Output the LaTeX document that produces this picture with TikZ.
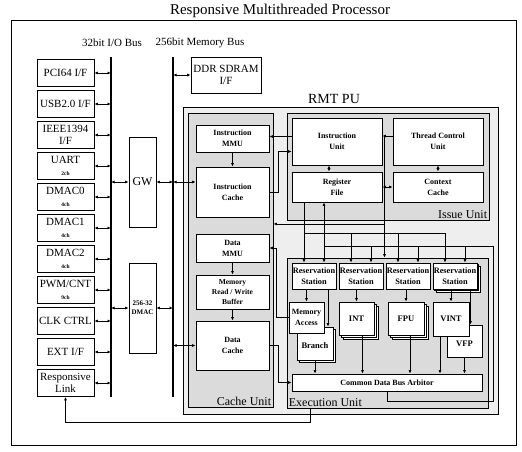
\documentclass[tikz,border=0pt]{standalone}
\usepackage{fontspec}
\setmainfont{Liberation Serif}
\usetikzlibrary{arrows.meta,positioning,calc,shadows}
\newcommand{\chn}[1]{{\fontsize{5.5}{6}\selectfont\bfseries #1}}
\tikzset{
  sysframe/.style={draw=black,line width=0.8pt,fill=white},
  title/.style={font=\fontsize{15}{16}\selectfont},
  buslbl/.style={font=\fontsize{11}{12}\selectfont,inner sep=1pt},
  bus/.style={line width=1.3pt},
  iobox/.style={draw=black,fill=white,line width=0.7pt,
                minimum width=57pt,minimum height=27pt,
                inner sep=1pt,align=center,font=\fontsize{11}{11.5}\selectfont},
  gwbox/.style={draw=black,fill=white,line width=0.7pt,
                minimum width=27pt,inner sep=1pt,align=center,
                font=\fontsize{12}{13}\selectfont},
  pubox/.style={draw=black,fill=gray!13,line width=0.8pt},
  unitbox/.style={draw=black,fill=gray!28,line width=0.7pt},
  pulbl/.style={font=\fontsize{14}{15}\selectfont,inner sep=1pt},
  unitlbl/.style={font=\fontsize{12}{13}\selectfont,inner sep=2pt},
  blk/.style={draw=black,fill=white,line width=0.8pt,inner sep=1pt,
              align=center,font=\fontsize{8}{11}\selectfont\bfseries},
  rsbox/.style={blk,minimum width=44pt,minimum height=26pt,inner sep=0pt,
                font=\fontsize{8.3}{11}\selectfont\bfseries},
  fubox/.style={blk,font=\fontsize{8.5}{11}\selectfont\bfseries},
  stack/.style={copy shadow={shadow xshift=#1,shadow yshift=-#1,
                draw=black,fill=white,line width=0.7pt}},
  wire/.style={line width=0.7pt},
  arr/.style={-{Latex[length=3.5pt,width=3pt]},line width=0.7pt},
  biarr/.style={{Latex[length=3.5pt,width=3pt]}-{Latex[length=3.5pt,width=3pt]},line width=0.7pt}
}
\begin{document}
\begin{tikzpicture}[x=1pt,y=-1pt]
  \useasboundingbox (0,0) rectangle (522,452);
  % outer frame and title
  \node[sysframe,minimum width=505pt,minimum height=425pt] (sys) at (263.5,232.5) {};
  \node[title] (ttl) at (280,11) {Responsive Multithreaded Processor};

  % the two buses
  \coordinate (iotop) at (111,57);
  \coordinate (iobot) at (111,397);
  \coordinate (memtop) at (173,57);
  \coordinate (membot) at (173,397);
  \draw[bus] (iotop) -- (iobot);
  \draw[bus] (memtop) -- (membot);
  \node[buslbl] (iolbl) at (112,43) {32bit I/O Bus};
  \node[buslbl] (memlbl) at (200,43) {256bit Memory Bus};

  % peripheral column on the I/O bus
  \foreach \i/\nm/\txt in {0/pci/{PCI64 I/F},1/usb/{USB2.0 I/F},2/ieee/{IEEE1394\\I/F},
      3/uart/{UART\\\chn{2ch}},4/dmaA/{DMAC0\\\chn{4ch}},5/dmaB/{DMAC1\\\chn{4ch}},
      6/dmaC/{DMAC2\\\chn{4ch}},7/pwm/{PWM/CNT\\\chn{9ch}},8/clk/{CLK CTRL},
      9/ext/{EXT I/F},10/rl/{Responsive\\Link}}
    \node[iobox] (\nm) at (65.5,73+31*\i) {\txt};
  \foreach \nm in {pci,usb,ieee,uart,dmaA,dmaB,dmaC,pwm,clk,ext,rl}
    \draw[biarr] (\nm.east) -- (\nm.east -| iotop);

  % gateway, bridge DMA and SDRAM
  \node[gwbox,minimum height=90pt] (gw) at (142.5,182) {GW};
  \node[gwbox,minimum height=90pt,font=\fontsize{7}{9}\selectfont\bfseries] (dmac) at (142.5,308) {256-32\\DMAC};
  \foreach \nm in {gw,dmac} {
    \draw[biarr] (\nm.west) -- (\nm.west -| iotop);
    \draw[biarr] (\nm.east) -- (\nm.east -| memtop);
  }
  \node[iobox,minimum width=70pt,minimum height=36pt] (ddr) at (226,75) {DDR SDRAM\\I/F};
  \draw[biarr] (ddr.west) -- (ddr.west -| memtop);

  % RMT PU and its three units
  \node[pubox,minimum width=315pt,minimum height=307pt] (rmt) at (340.5,260.5) {};
  \node[pulbl] (rmtlbl) at (334,99) {RMT PU};
  \node[unitbox,minimum width=85pt,minimum height=294pt] (cu) at (230.5,260) {};
  \node[unitbox,minimum width=202pt,minimum height=107pt] (isu) at (388,166.5) {};
  \node[unitbox,minimum width=201pt,minimum height=150pt] (exu) at (387.5,333) {};
  \node[unitlbl,anchor=south east] (culbl) at (cu.south east) {Cache Unit};
  \node[unitlbl,anchor=south east] (isulbl) at (isu.south east) {Issue Unit};
  \node[unitlbl,anchor=south west] (exulbl) at (exu.south west) {Execution Unit};

  % cache unit
  \node[blk,minimum width=73pt,minimum height=27pt] (immu) at (232.5,138.5) {Instruction\\MMU};
  \node[blk,minimum width=73pt,minimum height=50pt] (icache) at (232.5,192) {Instruction\\Cache};
  \node[blk,minimum width=73pt,minimum height=28pt] (dmmu) at (232.5,248) {Data\\MMU};
  \node[blk,minimum width=73pt,minimum height=34pt,font=\fontsize{7.5}{10}\selectfont\bfseries] (mrwb) at (232.5,292) {Memory\\Read / Write\\Buffer};
  \node[blk,minimum width=73pt,minimum height=49pt] (dcache) at (232.5,345.5) {Data\\Cache};
  \draw[arr] (immu) -- (icache);
  \draw[arr] (dmmu) -- (mrwb);
  \draw[arr] (mrwb) -- (dcache);
  \draw[biarr] ([yshift=10pt]icache.west) -- ([yshift=10pt]icache.west -| memtop);
  \draw[biarr] (dcache.west) -- (dcache.west -| memtop);

  % issue unit
  \node[blk,minimum width=90pt,minimum height=47pt] (iu) at (337,141.5) {Instruction\\Unit};
  \node[blk,minimum width=90pt,minimum height=47pt] (tcu) at (438,141.5) {Thread Control\\Unit};
  \node[blk,minimum width=90pt,minimum height=30pt] (rf) at (337,187) {Register\\File};
  \node[blk,minimum width=90pt,minimum height=30pt] (cc) at (438,187) {Context\\Cache};
  \draw[biarr] ([xshift=-8pt]iu.south) -- ([xshift=-8pt]iu.south |- rf.north);
  \draw[biarr] (tcu) -- (cc);
  \draw[biarr] (rf) -- (cc);
  \draw[arr] ([yshift=5pt]iu.west) -- ([yshift=5pt]iu.west -| immu.east);
  \draw[arr] (icache.east) -- ++(9,0) |- ([yshift=-10pt]iu.west);
  \coordinate (tap) at (384.5,136);
  \coordinate (tapA) at (384.5,224);
  \draw[arr] ([yshift=5.5pt]tcu.west) -- (tap -| iu.east);
  \draw[arr] (tap) -- (tap |- exu.north);
  \draw[arr] (tapA) -- (tapA -| cu.east);

  % execution unit
  \foreach \r/\x in {rs1/314,rs2/361,rs3/408}
    \node[rsbox] (\r) at (\x,276) {Reservation\\Station};
  \node[rsbox,stack=3pt,stack=1.5pt] (rs4) at (455,276) {Reservation\\Station};
  \node[fubox,stack=2pt,minimum width=36pt,minimum height=33pt] (branch) at (315,343.5) {\\Branch};
  \node[blk,minimum width=35pt,minimum height=31pt] (ma) at (306.5,317.5) {Memory\\Access};
  \node[fubox,stack=4pt,stack=2pt,minimum width=35pt,minimum height=33pt] (int) at (356.5,318.5) {INT};
  \node[fubox,stack=4pt,stack=2pt,minimum width=36pt,minimum height=33pt] (fpu) at (406,318.5) {FPU};
  \node[fubox,minimum width=35pt,minimum height=32pt] (vfp) at (464.5,341) {\\VFP};
  \node[fubox,minimum width=36pt,minimum height=34pt] (vint) at (451,319) {VINT};
  \node[blk,minimum width=190pt,minimum height=17pt] (cdb) at (387,382.5) {Common Data Bus Arbitor};

  % operand bus from the register file, result ring from the arbiter
  \coordinate (busB) at (304,233);
  \coordinate (ringNE) at (493,246);
  \coordinate (ringSE) at (493,401);
  \draw[wire] ([xshift=-10pt]rs1.north |- rf.south) -- (busB) -- ([xshift=-10pt]rs4.north |- busB);
  \foreach \r in {rs1,rs2,rs3,rs4} {
    \draw[arr] ([xshift=-10pt]\r.north |- busB) -- ([xshift=-10pt]\r.north);
    \draw[arr] ([xshift=10pt]\r.north |- ringNE) -- ([xshift=10pt]\r.north);
  }
  \draw[wire] (cdb.south) -- (cdb.south |- ringSE) -- (ringSE) -- (ringNE) -- ([xshift=10pt]rs1.north |- ringNE);
  \draw[arr] ([xshift=10pt]rs1.north |- ringNE) -- ([xshift=10pt]rs1.north |- rf.south);

  % stations to units, units to arbiter
  \draw[arr] (ma.north |- rs1.south) -- (ma.north);
  \draw[arr] ([xshift=13pt]branch.north |- rs1.south) -- ([xshift=13pt]branch.north);
  \draw[arr] (int.north |- rs2.south) -- (int.north);
  \draw[arr] (fpu.north |- rs3.south) -- (fpu.north);
  \draw[arr] (vint.north |- rs4.south) -- (vint.north);
  \draw[arr] ([xshift=6pt]vfp.north |- rs4.south) -- ([xshift=6pt]vfp.north);
  \draw[arr] (branch.south) -- (branch.south |- cdb.north);
  \draw[arr] ([xshift=6pt]int.south) -- ([xshift=6pt]int.south |- cdb.north);
  \draw[arr] ([xshift=4pt]fpu.south) -- ([xshift=4pt]fpu.south |- cdb.north);
  \draw[arr] ([xshift=-11pt]vint.south) -- ([xshift=-11pt]vint.south |- cdb.north);
  \draw[arr] (vfp.south) -- (vfp.south |- cdb.north);
  \draw[arr] (ma.west) -- ++(-12,0) |- (dmmu.east);
  \draw[arr] (dcache.east) -- ++(9,0) |- (cdb.west);
  \draw[arr] ([xshift=-77pt]exu.south) -- ++(0,14) -| (rl.south);
\end{tikzpicture}
\end{document}
